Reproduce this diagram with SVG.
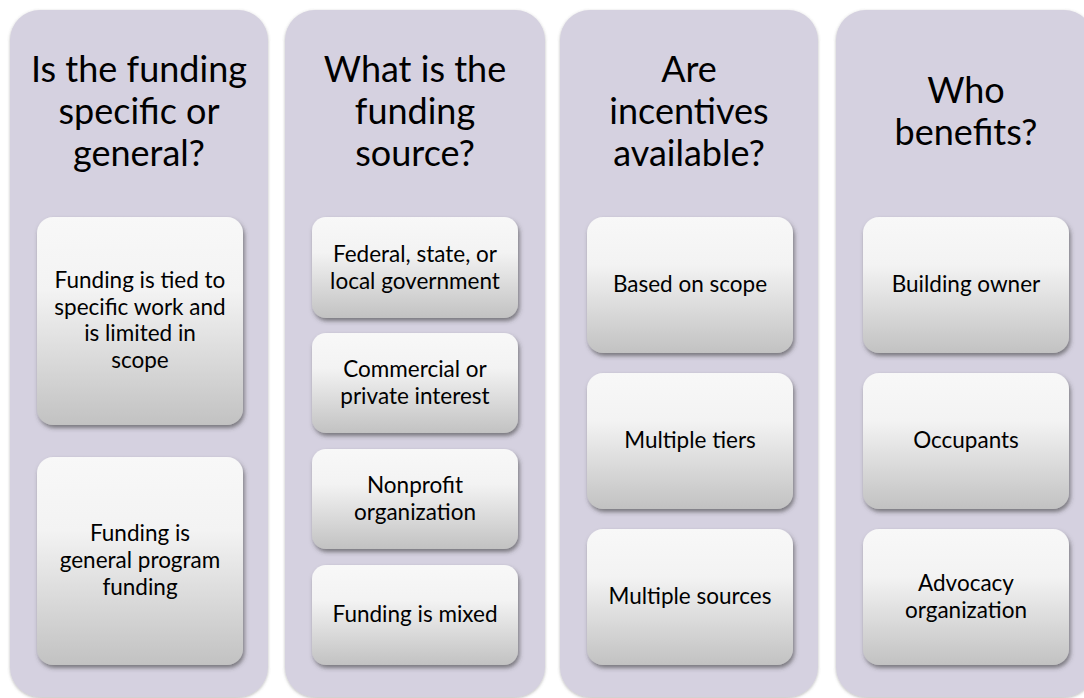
<svg xmlns="http://www.w3.org/2000/svg" width="1084" height="698" viewBox="0 0 1084 698">
<defs>
<linearGradient id="boxg" x1="0" y1="0" x2="0" y2="1">
<stop offset="0" stop-color="#f8f8f8"/>
<stop offset="0.35" stop-color="#f3f3f3"/>
<stop offset="1" stop-color="#c2c2c2"/>
</linearGradient>
<filter id="sh" x="-10%" y="-10%" width="125%" height="125%">
<feDropShadow dx="1.5" dy="3" stdDeviation="2" flood-color="#3a3a3a" flood-opacity="0.6"/>
</filter>
<filter id="colsh" x="-5%" y="-5%" width="110%" height="110%">
<feDropShadow dx="0" dy="1" stdDeviation="1.5" flood-color="#666" flood-opacity="0.45"/>
</filter>
</defs>
<style>
.col{fill:#d5d1e0;filter:url(#colsh)}
.box{fill:url(#boxg);filter:url(#sh)}
.t{font-family:Lato,"Open Sans","Liberation Sans",sans-serif;font-size:36px;fill:#000;text-anchor:middle}
.b{font-family:Lato,"Open Sans","Liberation Sans",sans-serif;font-size:22.5px;fill:#000;text-anchor:middle}
</style>
<rect width="1084" height="698" fill="#ffffff"/>

<g id="col1">
<rect class="col" x="10" y="10" width="258" height="687" rx="30"/>
<text class="t" x="139" y="82">Is the funding</text>
<text class="t" x="139" y="124">specific or</text>
<text class="t" x="139" y="166">general?</text>
</g>
<g id="col2">
<rect class="col" x="285" y="10" width="260" height="687" rx="30"/>
<text class="t" x="415" y="82">What is the</text>
<text class="t" x="415" y="124">funding</text>
<text class="t" x="415" y="166">source?</text>
</g>
<g id="col3">
<rect class="col" x="560" y="10" width="258" height="687" rx="30"/>
<text class="t" x="689" y="82">Are</text>
<text class="t" x="689" y="124">incentives</text>
<text class="t" x="689" y="166">available?</text>
</g>
<g id="col4">
<rect class="col" x="836" y="10" width="258" height="687" rx="30"/>
<text class="t" x="966" y="103">Who</text>
<text class="t" x="966" y="145">benefits?</text>
</g>

<g id="c1b1">
<rect class="box" x="37" y="217" width="206" height="208" rx="16"/>
<text class="b" x="140" y="288">Funding is tied to</text>
<text class="b" x="140" y="314.5">specific work and</text>
<text class="b" x="140" y="341">is limited in</text>
<text class="b" x="140" y="367.5">scope</text>
</g>
<g id="c1b2">
<rect class="box" x="37" y="457" width="206" height="208" rx="16"/>
<text class="b" x="140" y="541">Funding is</text>
<text class="b" x="140" y="568">general program</text>
<text class="b" x="140" y="595">funding</text>
</g>

<g id="c2b1">
<rect class="box" x="312" y="217" width="206" height="101" rx="14"/>
<text class="b" x="415" y="262">Federal, state, or</text>
<text class="b" x="415" y="288.5">local government</text>
</g>
<g id="c2b2">
<rect class="box" x="312" y="333" width="206" height="100" rx="14"/>
<text class="b" x="415" y="377">Commercial or</text>
<text class="b" x="415" y="403.5">private interest</text>
</g>
<g id="c2b3">
<rect class="box" x="312" y="449" width="206" height="100" rx="14"/>
<text class="b" x="415" y="493">Nonprofit</text>
<text class="b" x="415" y="519.5">organization</text>
</g>
<g id="c2b4">
<rect class="box" x="312" y="565" width="206" height="100" rx="14"/>
<text class="b" x="415" y="622">Funding is mixed</text>
</g>

<g id="c3b1">
<rect class="box" x="587" y="217" width="206" height="136" rx="16"/>
<text class="b" x="690" y="292">Based on scope</text>
</g>
<g id="c3b2">
<rect class="box" x="587" y="373" width="206" height="136" rx="16"/>
<text class="b" x="690" y="448">Multiple tiers</text>
</g>
<g id="c3b3">
<rect class="box" x="587" y="529" width="206" height="136" rx="16"/>
<text class="b" x="690" y="604">Multiple sources</text>
</g>

<g id="c4b1">
<rect class="box" x="863" y="217" width="206" height="136" rx="16"/>
<text class="b" x="966" y="292">Building owner</text>
</g>
<g id="c4b2">
<rect class="box" x="863" y="373" width="206" height="136" rx="16"/>
<text class="b" x="966" y="448">Occupants</text>
</g>
<g id="c4b3">
<rect class="box" x="863" y="529" width="206" height="136" rx="16"/>
<text class="b" x="966" y="591">Advocacy</text>
<text class="b" x="966" y="617.5">organization</text>
</g>

<g id="connectors"></g>
</svg>
